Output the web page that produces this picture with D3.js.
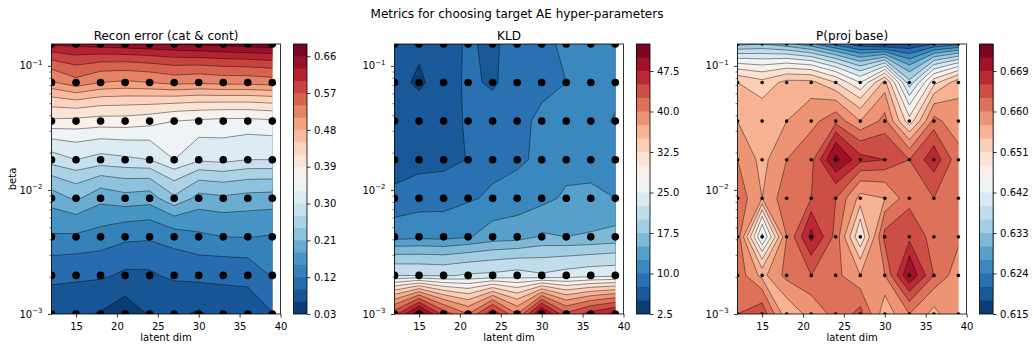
<!DOCTYPE html>
<html><head><meta charset="utf-8">
<script src="https://cdn.jsdelivr.net/npm/d3@7"></script>
<style>
body{margin:0;background:#fff}
svg{display:block}
text{font-family:"DejaVu Sans",sans-serif;fill:#000}
</style>
</head><body>
<svg id="c" width="1034" height="345"></svg>
<script>
// ---------- data ----------
const latentDims = [12, 15, 18, 21, 24, 27, 30, 33, 36, 39];
const betas = [0.001, 0.002046, 0.004187, 0.008566, 0.01753, 0.03586, 0.07337, 0.15];

// rows: betas[0] (bottom) .. betas[7] (top); columns: latentDims
const reconError = [
  [0.068, 0.066, 0.058, 0.045, 0.062, 0.064, 0.057, 0.068, 0.070, 0.089],
  [0.100, 0.097, 0.095, 0.085, 0.086, 0.096, 0.100, 0.100, 0.102, 0.122],
  [0.147, 0.146, 0.140, 0.128, 0.125, 0.135, 0.145, 0.150, 0.151, 0.148],
  [0.195, 0.215, 0.190, 0.200, 0.195, 0.235, 0.200, 0.205, 0.200, 0.198],
  [0.285, 0.300, 0.290, 0.295, 0.300, 0.330, 0.305, 0.310, 0.300, 0.300],
  [0.385, 0.382, 0.378, 0.378, 0.372, 0.360, 0.356, 0.352, 0.352, 0.356],
  [0.505, 0.530, 0.510, 0.505, 0.510, 0.520, 0.515, 0.520, 0.520, 0.525],
  [0.635, 0.640, 0.645, 0.650, 0.655, 0.660, 0.665, 0.670, 0.675, 0.680]
];
const kld = [
  [44.0, 52.0, 44.0, 40.0, 47.0, 40.0, 51.0, 43.0, 46.0, 48.0],
  [22.5, 22.4, 22.2, 22.8, 23.0, 23.5, 22.8, 23.5, 24.0, 24.2],
  [11.5, 11.8, 11.6, 12.3, 13.5, 13.8, 15.3, 15.0, 15.2, 15.7],
  [7.9, 8.6, 8.8, 9.6, 10.5, 11.0, 11.6, 13.0, 13.1, 12.5],
  [6.5, 6.6, 6.7, 7.6, 8.8, 9.5, 10.6, 11.0, 11.2, 11.3],
  [6.2, 6.3, 6.5, 7.8, 8.3, 9.3, 10.5, 10.8, 10.8, 9.8],
  [6.0, 4.5, 6.4, 7.9, 7.2, 8.6, 9.2, 10.0, 10.8, 11.0],
  [6.0, 5.8, 6.5, 7.8, 7.0, 8.8, 9.6, 10.3, 10.8, 11.0]
];
const projBase = [
  [0.663, 0.665, 0.655, 0.658, 0.661, 0.664, 0.655, 0.660, 0.656, 0.660],
  [0.662, 0.656, 0.661, 0.663, 0.661, 0.657, 0.660, 0.672, 0.663, 0.658],
  [0.662, 0.641, 0.660, 0.670, 0.662, 0.648, 0.664, 0.665, 0.662, 0.661],
  [0.662, 0.657, 0.662, 0.663, 0.663, 0.656, 0.657, 0.662, 0.663, 0.662],
  [0.660, 0.656, 0.660, 0.662, 0.673, 0.667, 0.666, 0.663, 0.668, 0.661],
  [0.657, 0.656, 0.657, 0.659, 0.662, 0.657, 0.661, 0.649, 0.661, 0.658],
  [0.654, 0.652, 0.655, 0.655, 0.651, 0.645, 0.655, 0.637, 0.650, 0.656],
  [0.632, 0.633, 0.631, 0.628, 0.623, 0.619, 0.617, 0.618, 0.621, 0.623]
];

const reconLevels = d3.range(23).map(i => +(0.03 + 0.03 * i).toFixed(5));
const kldLevels = d3.range(21).map(i => +(2.5 + 2.5 * i).toFixed(5));
const projLevels = d3.range(21).map(i => +(0.615 + 0.003 * i).toFixed(5));

const reconTicks = [0.03, 0.12, 0.21, 0.30, 0.39, 0.48, 0.57, 0.66];
const kldTicks = [2.5, 10.0, 17.5, 25.0, 32.5, 40.0, 47.5];
const projTicks = [0.615, 0.624, 0.633, 0.642, 0.651, 0.660, 0.669];

const xTicks = [15, 20, 25, 30, 35, 40];
const yMajorTicks = [0.001, 0.01, 0.1];
const xDomain = [12, 40];
const yDomain = [0.001, 0.15];

const suptitle = "Metrics for choosing target AE hyper-parameters";
const titles = ["Recon error (cat & cont)", "KLD", "P(proj base)"];

// ---------- colormap (matplotlib RdBu_r) ----------
const rdbuR = ["#053061","#2166ac","#4393c3","#92c5de","#d1e5f0","#f7f7f7","#fddbc7","#f4a582","#d6604d","#b2182b","#67001f"];
const cmap = d3.scaleLinear().domain(d3.range(11).map(i => i / 10)).range(rdbuR)
  .interpolate(d3.interpolateRgb).clamp(true);

// ---------- layout ----------
const svg = d3.select("#c");
const AX_TOP = 44, AX_BOTTOM = 314, AX_W = 229, CB_GAP = 13, CB_W = 13.5;

svg.append("text").attr("x", 517).attr("y", 17.5).attr("text-anchor", "middle")
  .attr("font-size", 12).text(suptitle);

const panels = [
  { left: 51.5, title: titles[0], grid: reconError, levels: reconLevels, ticks: reconTicks, fmt: ".2f", r: 3.8, ylabel: "beta" },
  { left: 394.5, title: titles[1], grid: kld, levels: kldLevels, ticks: kldTicks, fmt: ".1f", r: 3.8 },
  { left: 737.6, title: titles[2], grid: projBase, levels: projLevels, ticks: projTicks, fmt: ".3f", r: 1.8 }
];

const defs = svg.append("defs");

panels.forEach((p, idx) => {
  const g = svg.append("g");
  const x = d3.scaleLinear().domain(xDomain).range([p.left, p.left + AX_W]);
  const y = d3.scaleLog().domain(yDomain).range([AX_BOTTOM, AX_TOP]);
  const nx = latentDims.length, ny = betas.length;
  const gx = d3.scaleLinear().domain(d3.range(nx)).range(latentDims);
  const gy = d3.scaleLinear().domain(d3.range(ny)).range(betas);
  const nb = p.levels.length - 1;
  const bandColor = k => cmap((k + 0.5) / nb);

  const values = p.grid.flat();
  const contours = d3.contours().size([nx, ny]).thresholds(p.levels)(values);
  const path = d3.geoPath(d3.geoTransform({
    point(px, py) { this.stream.point(x(gx(px - 0.5)), y(gy(py - 0.5))); }
  }));

  const cd = "clipd" + idx, ca = "clipa" + idx;
  defs.append("clipPath").attr("id", cd).append("rect")
    .attr("x", x(latentDims[0])).attr("y", y(betas[ny - 1]))
    .attr("width", x(latentDims[nx - 1]) - x(latentDims[0]))
    .attr("height", y(betas[0]) - y(betas[ny - 1]));
  defs.append("clipPath").attr("id", ca).append("rect")
    .attr("x", x(xDomain[0])).attr("y", AX_TOP)
    .attr("width", AX_W).attr("height", AX_BOTTOM - AX_TOP);

  const fillG = g.append("g").attr("clip-path", `url(#${cd})`);
  fillG.selectAll("path.band").data(contours.slice(0, nb)).join("path")
    .attr("class", "band").attr("d", path).attr("fill", (d, i) => bandColor(i))
    .attr("fill-rule", "evenodd").attr("stroke", "none");
  fillG.selectAll("path.iso").data(contours.slice(1, nb)).join("path")
    .attr("class", "iso").attr("d", path).attr("fill", "none")
    .attr("stroke", "#000").attr("stroke-width", 0.5).attr("stroke-opacity", 0.85);

  // scatter of grid points
  const pts = [];
  betas.forEach(b => latentDims.forEach(l => pts.push([l, b])));
  g.append("g").attr("clip-path", `url(#${ca})`).selectAll("circle").data(pts).join("circle")
    .attr("cx", d => x(d[0])).attr("cy", d => y(d[1])).attr("r", p.r).attr("fill", "#000");

  // x axis
  const xa = g.append("g").attr("transform", `translate(0,${AX_BOTTOM})`)
    .call(d3.axisBottom(x).tickValues(xTicks).tickSize(3.5).tickPadding(3.5).tickFormat(d3.format("d")));
  xa.select(".domain").remove();
  xa.selectAll("line").attr("stroke", "#000").attr("stroke-width", 0.8);
  xa.selectAll("text").attr("font-size", 10).attr("font-family", "DejaVu Sans").attr("fill", "#000")
    .attr("y", 16).attr("dy", 0);
  g.append("text").attr("x", (x.range()[0] + x.range()[1]) / 2).attr("y", 340.5)
    .attr("text-anchor", "middle").attr("font-size", 10).text("latent dim");

  // y axis (log)
  const minors = y.ticks().filter(v => !yMajorTicks.some(m => Math.abs(m - v) / m < 1e-6) && v >= yDomain[0] && v <= yDomain[1]);
  const yMin = g.append("g").attr("transform", `translate(${x.range()[0]},0)`)
    .call(d3.axisLeft(y).tickValues(minors).tickSize(2).tickFormat(""));
  yMin.select(".domain").remove();
  yMin.selectAll("line").attr("stroke", "#000").attr("stroke-width", 0.6);
  const yMaj = g.append("g").attr("transform", `translate(${x.range()[0]},0)`)
    .call(d3.axisLeft(y).tickValues(yMajorTicks).tickSize(3.5).tickFormat(""));
  yMaj.select(".domain").remove();
  yMaj.selectAll("line").attr("stroke", "#000").attr("stroke-width", 0.8);
  yMajorTicks.forEach(v => {
    const t = g.append("text").attr("x", x.range()[0] - 9).attr("y", y(v) + 3.6)
      .attr("text-anchor", "end").attr("font-size", 10);
    t.append("tspan").text("10");
    t.append("tspan").attr("font-size", 7).attr("dy", -4.3).text("\u2212" + Math.round(-Math.log10(v)));
  });
  if (p.ylabel) {
    g.append("text").attr("transform", `translate(15.5,${(AX_TOP + AX_BOTTOM) / 2}) rotate(-90)`)
      .attr("text-anchor", "middle").attr("font-size", 10).text(p.ylabel);
  }

  // title
  g.append("text").attr("x", (x.range()[0] + x.range()[1]) / 2).attr("y", 39.5)
    .attr("text-anchor", "middle").attr("font-size", 12).text(p.title);

  // spines
  g.append("rect").attr("x", x.range()[0]).attr("y", AX_TOP).attr("width", AX_W)
    .attr("height", AX_BOTTOM - AX_TOP).attr("fill", "none").attr("stroke", "#000").attr("stroke-width", 0.8);

  // colorbar
  const cbx = x.range()[1] + CB_GAP;
  const cs = d3.scaleLinear().domain([p.levels[0], p.levels[nb]]).range([AX_BOTTOM, AX_TOP]);
  const cb = g.append("g");
  cb.selectAll("rect.cband").data(d3.range(nb)).join("rect").attr("class", "cband")
    .attr("x", cbx).attr("width", CB_W)
    .attr("y", AX_TOP).attr("height", k => cs(p.levels[k]) - AX_TOP)
    .attr("fill", k => bandColor(k));
  cb.append("rect").attr("x", cbx).attr("y", AX_TOP).attr("width", CB_W)
    .attr("height", AX_BOTTOM - AX_TOP).attr("fill", "none").attr("stroke", "#000").attr("stroke-width", 0.8);
  const ca2 = cb.append("g").attr("transform", `translate(${cbx + CB_W},0)`)
    .call(d3.axisRight(cs).tickValues(p.ticks).tickSize(3.5).tickPadding(3.5).tickFormat(d3.format(p.fmt)));
  ca2.select(".domain").remove();
  ca2.selectAll("line").attr("stroke", "#000").attr("stroke-width", 0.8);
  ca2.selectAll("text").attr("font-size", 10).attr("font-family", "DejaVu Sans").attr("fill", "#000");
});
</script>
</body></html>
